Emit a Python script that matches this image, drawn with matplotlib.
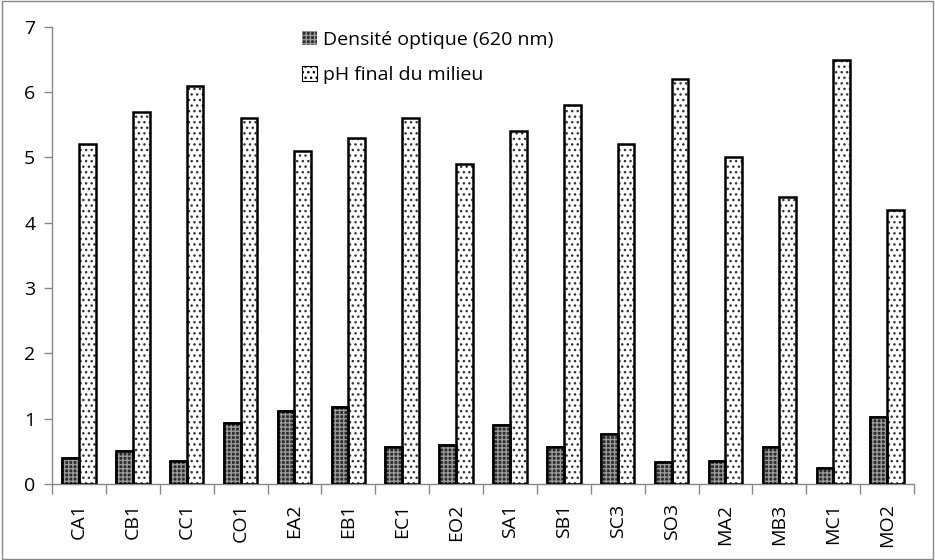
import matplotlib.pyplot as plt
import matplotlib.patches as mpatches
import numpy as np

# data
souches = ['CA1', 'CB1', 'CC1', 'CO1', 'EA2', 'EB1', 'EC1', 'EO2',
           'SA1', 'SB1', 'SC3', 'SO3', 'MA2', 'MB3', 'MC1', 'MO2']
densite = [0.40, 0.50, 0.35, 0.93, 1.12, 1.18, 0.57, 0.60,
           0.90, 0.57, 0.77, 0.33, 0.35, 0.57, 0.25, 1.02]
ph_final = [5.2, 5.7, 6.1, 5.6, 5.1, 5.3, 5.6, 4.9,
            5.4, 5.8, 5.2, 6.2, 5.0, 4.4, 6.5, 4.2]

plt.rcParams['font.family'] = ['Open Sans', 'DejaVu Sans']
plt.rcParams['hatch.linewidth'] = 1.0

fig = plt.figure(figsize=(9.35, 5.6), dpi=100)
ax = fig.add_axes([0.0556, 0.1357, 0.922, 0.8163])

x = np.arange(len(souches))
w = 0.31

# dark bars : dark fill with light dots
ax.bar(x - w / 2, densite, w, color='#2b2b2b', edgecolor='black', lw=1.8, zorder=2)
ax.bar(x - w / 2, densite, w, color='none', edgecolor='#9a9a9a', lw=0, hatch='++++', zorder=3)
ax.bar(x - w / 2, densite, w, color='none', edgecolor='black', lw=1.8, zorder=4)

# light bars : white with black dots
ax.bar(x + w / 2, ph_final, w, color='white', edgecolor='#333333', lw=0, hatch='...', zorder=2)
ax.bar(x + w / 2, ph_final, w, color='none', edgecolor='black', lw=1.8, zorder=4)

ax.set_xlim(-0.5, len(souches) - 0.5)
ax.set_ylim(0, 7)
ax.set_yticks(range(0, 8))
ax.tick_params(axis='y', labelsize=14, length=6, color='#888888', width=1, pad=6)

ax.set_xticks(x)
ax.set_xticklabels(souches, rotation=90, fontsize=14)
ax.tick_params(axis='x', which='major', length=0, pad=14)
ax.set_xticks(np.arange(-0.5, len(souches), 1), minor=True)
ax.tick_params(axis='x', which='minor', length=7, color='#888888', width=1)

for s in ['top', 'right']:
    ax.spines[s].set_visible(False)
for s in ['left', 'bottom']:
    ax.spines[s].set_color('#888888')
    ax.spines[s].set_linewidth(1)

h1 = mpatches.Patch(facecolor='#2b2b2b', edgecolor='#9a9a9a', hatch='++++', lw=0)
h2 = mpatches.Patch(facecolor='white', edgecolor='black', hatch='...', lw=0.8)
ax.legend([h1, h2], ['Densité optique (620 nm)', 'pH final du milieu'],
          loc='upper left', bbox_to_anchor=(0.27, 1.03), frameon=False,
          fontsize=14, handlelength=0.75, handleheight=0.75, handletextpad=0.3,
          labelspacing=0.9)

# frame around the whole chart
fig.patches.append(mpatches.Rectangle((0.002, 0.002), 0.996, 0.996, transform=fig.transFigure,
                                      fill=False, edgecolor='#888888', lw=1))

plt.savefig('out.png', dpi=100)
